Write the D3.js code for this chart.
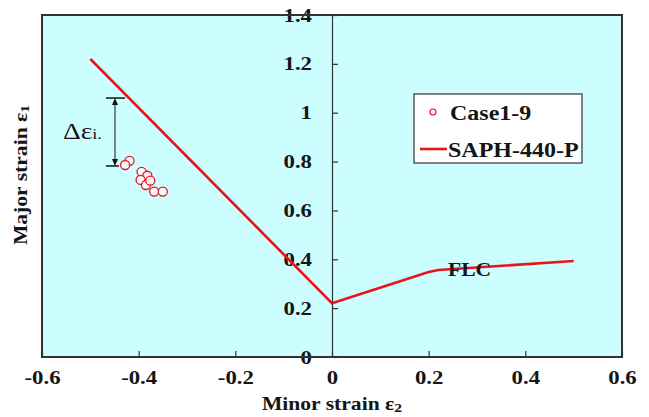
<!DOCTYPE html>
<html>
<head>
<meta charset="utf-8">
<script src="https://cdn.jsdelivr.net/npm/d3@7"></script>
<style>
  body { margin: 0; background: #fff; }
  text { font-family: "Liberation Serif", "DejaVu Serif", serif; fill: #151515; }
</style>
</head>
<body>
<div id="chart"></div>
<script>
// FLC curve (SAPH-440-P)
const flcMinor = [-0.5, 0, 0.2, 0.22, 0.5];
const flcMajor = [1.22, 0.22, 0.348, 0.356, 0.393];

// measured points (Case1-9)
const caseMinor = [-0.419, -0.428, -0.394, -0.382, -0.396, -0.385, -0.368, -0.350, -0.376];
const caseMajor = [0.803, 0.786, 0.758, 0.742, 0.725, 0.704, 0.677, 0.677, 0.722];

const xTicks = [-0.6, -0.4, -0.2, 0, 0.2, 0.4, 0.6];
const yTicks = [0, 0.2, 0.4, 0.6, 0.8, 1, 1.2, 1.4];

// annotation: gap between curve and test points
const deltaMinor = -0.449;
const deltaTop = 1.06;
const deltaBottom = 0.782;

const W = 649, H = 417;
const margin = { top: 15, right: 27, bottom: 60, left: 42 };
const width = W - margin.left - margin.right;
const height = H - margin.top - margin.bottom;
const K = 1.2; // the text in the picture is set wide

// plain hyphen for negatives, like the original
const fmt = d => {
  if (d === 0 || d === 1) return String(d);
  return (d < 0 ? '-' : '') + Math.abs(d).toFixed(1);
};

// widen text along its baseline
function stretch(sel, k) {
  sel.each(function () {
    const t = d3.select(this);
    const x0 = +t.attr('x') || 0;
    t.attr('x', x0 / k).attr('transform', `scale(${k},1)`);
  });
}

const svg = d3.select('#chart').append('svg')
  .attr('width', W)
  .attr('height', H);

const g = svg.append('g')
  .attr('transform', `translate(${margin.left},${margin.top})`);

const x = d3.scaleLinear().domain([-0.6, 0.6]).range([0, width]);
const y = d3.scaleLinear().domain([0, 1.4]).range([height, 0]);

// plot background
g.append('rect')
  .attr('width', width)
  .attr('height', height)
  .attr('fill', '#ccfdff');

// x axis (ticks pointing up, labels below)
const xAxis = g.append('g')
  .attr('transform', `translate(0,${height})`)
  .call(d3.axisBottom(x).tickValues(xTicks).tickSize(-6).tickPadding(14).tickFormat(fmt));
xAxis.select('.domain').remove();
xAxis.selectAll('line').attr('stroke', '#333').attr('stroke-width', 1.2);
xAxis.selectAll('text')
  .attr('font-size', 19)
  .attr('font-weight', 'bold')
  .attr('fill', '#151515')
  .attr('font-family', '"Liberation Serif", serif')
  .call(stretch, K);

// y axis at x = 0, ticks to the right, labels to the left
const yAxis = g.append('g')
  .attr('transform', `translate(${x(0)},0)`)
  .call(d3.axisRight(y).tickValues(yTicks).tickSize(6).tickFormat(fmt));
yAxis.select('.domain').attr('stroke', '#333').attr('stroke-width', 1.2);
yAxis.selectAll('line').attr('stroke', '#333').attr('stroke-width', 1.2);
yAxis.selectAll('text')
  .attr('x', -20)
  .attr('text-anchor', 'end')
  .attr('font-size', 19)
  .attr('font-weight', 'bold')
  .attr('fill', '#151515')
  .attr('font-family', '"Liberation Serif", serif')
  .call(stretch, K);

// frame
g.append('rect')
  .attr('width', width)
  .attr('height', height)
  .attr('fill', 'none')
  .attr('stroke', '#333')
  .attr('stroke-width', 2);

// FLC line
const flc = flcMinor.map((v, i) => [v, flcMajor[i]]);
g.append('path')
  .datum(flc)
  .attr('fill', 'none')
  .attr('stroke', '#e8141c')
  .attr('stroke-width', 2.6)
  .attr('d', d3.line().x(d => x(d[0])).y(d => y(d[1])));

// delta annotation
const ax = x(deltaMinor);
g.append('line')
  .attr('x1', ax).attr('x2', ax)
  .attr('y1', y(deltaTop) + 4).attr('y2', y(deltaBottom) - 4)
  .attr('stroke', '#111').attr('stroke-width', 1);
g.append('line')
  .attr('x1', ax - 9).attr('x2', ax + 10)
  .attr('y1', y(deltaTop)).attr('y2', y(deltaTop))
  .attr('stroke', '#111').attr('stroke-width', 1.5);
g.append('line')
  .attr('x1', ax - 9).attr('x2', ax + 4)
  .attr('y1', y(deltaBottom)).attr('y2', y(deltaBottom))
  .attr('stroke', '#111').attr('stroke-width', 1.5);
g.append('path')
  .attr('d', `M${ax},${y(deltaTop)}l-3,7h6z`)
  .attr('fill', '#111');
g.append('path')
  .attr('d', `M${ax},${y(deltaBottom)}l-3,-7h6z`)
  .attr('fill', '#111');
const dt = g.append('text')
  .attr('x', ax - 52)
  .attr('y', (y(deltaTop) + y(deltaBottom)) / 2 + 7)
  .attr('font-size', 23);
dt.append('tspan').text('\u0394\u03b5');
dt.append('tspan').attr('font-size', 15).text('i.');
dt.call(stretch, K);

// case points
g.selectAll('circle.case')
  .data(caseMinor.map((v, i) => [v, caseMajor[i]]))
  .enter().append('circle')
  .attr('class', 'case')
  .attr('cx', d => x(d[0]))
  .attr('cy', d => y(d[1]))
  .attr('r', 4.5)
  .attr('fill', '#fff')
  .attr('fill-opacity', 0.85)
  .attr('stroke', '#e8141c')
  .attr('stroke-width', 1.3);

// FLC label
g.append('text')
  .attr('x', x(0.24))
  .attr('y', y(0.35) + 5)
  .attr('font-size', 18)
  .attr('font-weight', 'bold')
  .text('FLC')
  .call(stretch, K);

// legend
const leg = svg.append('g').attr('transform', 'translate(414,94)');
leg.append('rect')
  .attr('width', 168).attr('height', 69)
  .attr('fill', '#fff').attr('stroke', '#333').attr('stroke-width', 1.2);
leg.append('circle')
  .attr('cx', 19).attr('cy', 18).attr('r', 3)
  .attr('fill', '#fff').attr('stroke', '#e8141c').attr('stroke-width', 1.2);
leg.append('text').attr('x', 36).attr('y', 26).attr('font-size', 20)
  .attr('font-weight', 'bold').text('Case1-9').call(stretch, K);
leg.append('line')
  .attr('x1', 6).attr('x2', 33).attr('y1', 55).attr('y2', 55)
  .attr('stroke', '#e8141c').attr('stroke-width', 2.6);
leg.append('text').attr('x', 34).attr('y', 63).attr('font-size', 20)
  .attr('font-weight', 'bold').text('SAPH-440-P').call(stretch, K);

// axis titles
const xt = svg.append('text')
  .attr('x', margin.left + x(0))
  .attr('y', 410)
  .attr('text-anchor', 'middle')
  .attr('font-size', 18)
  .attr('font-weight', 'bold');
xt.append('tspan').text('Minor strain \u03b5');
xt.append('tspan').attr('font-size', 13).attr('dy', 2).text('2');
xt.call(stretch, K);

const yt = svg.append('text')
  .attr('transform', `translate(27,${margin.top + 160}) rotate(-90) scale(${K},1)`)
  .attr('text-anchor', 'middle')
  .attr('font-size', 18)
  .attr('font-weight', 'bold');
yt.append('tspan').text('Major strain \u03b5');
yt.append('tspan').attr('font-size', 13).attr('dy', 2).text('1');
</script>
</body>
</html>
